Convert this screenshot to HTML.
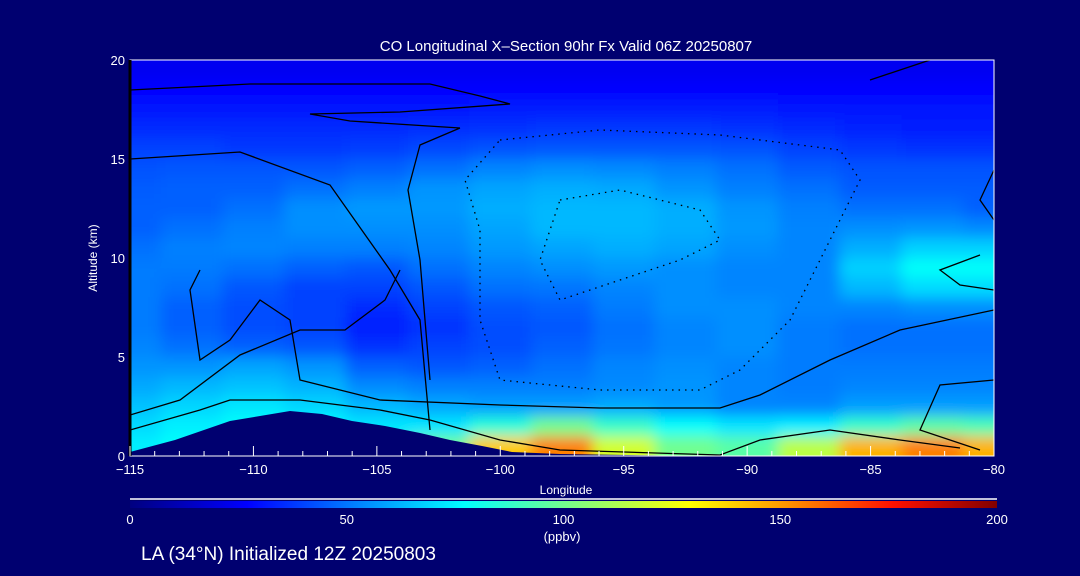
<!DOCTYPE html>
<html><head><meta charset="utf-8"><style>
body{margin:0;background:#000070;}
svg{display:block;font-family:"Liberation Sans",sans-serif;}
</style></head><body>
<svg id="chart" width="1080" height="576" viewBox="0 0 1080 576">
<defs>
<clipPath id="plotclip"><rect x="130" y="60" width="864" height="396"/></clipPath>
<filter id="blur" x="-5%" y="-5%" width="110%" height="110%"><feGaussianBlur stdDeviation="7"/></filter>
<linearGradient id="jet" x1="0" x2="1" y1="0" y2="0">
<stop offset="0" stop-color="#000080"/><stop offset="0.135" stop-color="#0000ff"/>
<stop offset="0.26" stop-color="#0080ff"/><stop offset="0.385" stop-color="#00ffff"/>
<stop offset="0.515" stop-color="#80ff80"/><stop offset="0.645" stop-color="#ffff00"/>
<stop offset="0.76" stop-color="#ff9000"/><stop offset="0.88" stop-color="#ff1000"/>
<stop offset="1" stop-color="#800000"/></linearGradient>
</defs>
<rect x="0" y="0" width="1080" height="576" fill="#000070"/>
<text x="566" y="51" fill="#fff" font-size="15" text-anchor="middle">CO Longitudinal X–Section 90hr  Fx Valid 06Z 20250807</text>
<g id="heat" clip-path="url(#plotclip)"><g id="cells" filter="url(#blur)"></g></g>
<polygon clip-path="url(#plotclip)" fill="#000070" points="130,456 130,452 175,440 230,421 290,411 322,414 352,421 385,426 420,433 450,440 482,446 512,452 560,454 700,456"/>
<g fill="none" stroke="#000" stroke-width="1.3" clip-path="url(#plotclip)">
<polyline points="130,90 250,84 430,84 480,96 510,104 400,112 310,114 350,121 460,128"/>
<polyline points="130,159 240,152 330,185 390,270 420,320 430,430"/>
<polyline points="460,128 420,145 408,190 420,260 430,380"/>
<polyline points="130,415 180,400 240,355 300,330 345,330 385,300 400,270"/>
<polyline points="200,270 190,290 200,360 230,340 260,300 290,320 300,380 380,400 500,405 600,408 720,408 760,395 830,360 900,330 994,310"/>
<polyline points="130,430 200,410 230,400 300,400 380,410 430,420 500,440 560,450 720,455 760,440 830,430 900,440 960,448"/>
<polyline points="994,380 940,385 920,430 980,450"/>
<polyline points="870,80 930,60"/><polyline points="994,170 980,200 994,220"/>
<polyline points="980,255 940,270 960,285 994,290"/>
</g>
<g fill="none" stroke="#000" stroke-width="1.3" stroke-dasharray="1.5 5" clip-path="url(#plotclip)">
<polyline points="500,140 600,130 720,135 840,150 860,180 830,240 790,320 740,370 700,390 600,390 500,380 480,320 480,230 465,180 500,140"/>
<polyline points="560,200 620,190 700,210 720,240 680,260 620,280 560,300 540,260 560,200"/>
</g>
<rect x="130" y="60" width="864" height="396" fill="none" stroke="#fff" stroke-width="1"/>
<line x1="130" y1="60" x2="130" y2="456" stroke="#000" stroke-width="3"/>
<g id="axes" fill="#fff" font-size="13"></g>
<text x="566" y="494" fill="#fff" font-size="12" text-anchor="middle">Longitude</text>
<text x="97" y="258" fill="#fff" font-size="12" text-anchor="middle" transform="rotate(-90 97 258)">Altitude (km)</text>
<line x1="130" y1="499" x2="997" y2="499" stroke="#fff" stroke-width="1.5"/>
<rect x="130" y="501" width="867" height="7" fill="url(#jet)"/>
<g id="cbticks" fill="#fff" font-size="13"></g>
<text x="562" y="541" fill="#fff" font-size="13" text-anchor="middle">(ppbv)</text>
<text x="141" y="560" fill="#fff" font-size="19">LA (34°N) Initialized 12Z 20250803</text>
</svg>
<script>
const lons=[-115,-112.5,-110,-107.5,-105,-102.5,-100,-97.5,-95,-92.5,-90,-87.5,-85,-82.5,-80];
const alts=[19.5,18.5,17.5,16.5,15.5,14.5,13.5,12.5,11.5,10.5,9.5,8.5,7.5,6.5,5.5,4.5,3.5,2.5,1.5,0.5];
const r195=[24,24,24,24,24,24,24,24,24,24,24,24,24,24,24];
const r185=[28,28,28,28,28,28,28,28,28,28,28,28,28,28,28];
const r175=[31,31,31,31,31,31,32,33,33,33,32,31,31,31,31];
const r165=[35,35,35,35,35,36,37,38,38,38,37,35,34,33,33];
const r155=[40,40,38,38,39,41,43,44,44,44,43,40,38,37,37];
const r145=[43,44,44,44,46,49,53,55,54,52,49,45,43,43,43];
const r135=[45,46,46,49,52,56,59,61,60,56,52,49,45,45,45];
const r125=[46,46,49,55,57,57,61,63,63,61,56,52,49,49,46];
const r115=[46,49,52,55,55,55,59,63,63,61,57,53,55,56,54];
const r105=[49,52,53,52,52,53,57,59,61,59,55,53,61,68,68];
const r95=[51,51,49,46,44,49,53,55,57,55,53,53,68,78,78];
const r85=[51,49,44,40,40,44,49,50,53,55,53,53,63,70,70];
const r75=[51,46,42,40,35,40,44,46,51,55,55,53,53,55,55];
const r65=[51,46,42,40,33,37,42,44,49,53,55,51,49,49,49];
const r55=[53,49,46,44,37,40,42,46,50,53,55,51,49,49,49];
const r45=[56,56,59,56,46,44,46,49,53,55,53,51,51,51,51];
const r35=[60,63,65,62,54,52,52,52,54,56,53,51,53,53,53];
const r25=[65,69,72,69,63,60,58,58,60,57,53,53,58,58,58];
const r15=[70,74,78,76,72,72,85,100,88,78,72,74,88,95,92];
const r05=[74,78,80,80,82,100,140,155,120,100,95,115,145,155,145];
const rows=[r195,r185,r175,r165,r155,r145,r135,r125,r115,r105,r95,r85,r75,r65,r55,r45,r35,r25,r15,r05];
const xTicks=[-115,-110,-105,-100,-95,-90,-85,-80];
const yTicks=[0,5,10,15,20];
const cbTicks=[0,50,100,150,200];

const xs=v=>130+(v+115)/35*864;
const ys=v=>456-v/20*396;
const NS='http://www.w3.org/2000/svg';
const stops=[[0,[0,0,128]],[27,[0,0,255]],[52,[0,128,255]],[77,[0,255,255]],[103,[128,255,128]],[129,[255,255,0]],[152,[255,144,0]],[176,[255,16,0]],[200,[128,0,0]]];
function color(v){
  v=Math.max(0,Math.min(200,v));
  for(let i=1;i<stops.length;i++){if(v<=stops[i][0]){const a=stops[i-1],b=stops[i];const t=(v-a[0])/(b[0]-a[0]);
    return 'rgb('+a[1].map((c,k)=>Math.round(c+(b[1][k]-c)*t)).join(',')+')';}}
  return 'rgb(128,0,0)';
}
const cg=document.getElementById('cells');
const bg=document.createElementNS(NS,'rect');
bg.setAttribute('x',100);bg.setAttribute('y',40);bg.setAttribute('width',930);bg.setAttribute('height',440);bg.setAttribute('fill',color(45));
cg.appendChild(bg);
const dx=864/35*2.5, dy=396/20;
rows.forEach((row,ri)=>{
  row.forEach((v,ci)=>{
    const r=document.createElementNS(NS,'rect');
    
    
    let x0=xs(lons[ci])-dx/2, w=dx+1;
    if(ci===0){x0-=30;w+=30;} if(ci===lons.length-1){w+=30;}
    let y0=ys(alts[ri])-dy/2, h=dy+1;
    if(ri===0){y0-=30;h+=30;} if(ri===rows.length-1){h+=30;}
    r.setAttribute('x',x0);r.setAttribute('y',y0);r.setAttribute('width',w);r.setAttribute('height',h);
    r.setAttribute('fill',color(v));
    cg.appendChild(r);
  });
});
const ax=document.getElementById('axes');
xTicks.forEach(t=>{
  const l=document.createElementNS(NS,'line');
  
  
  l.setAttribute('x1',xs(t));l.setAttribute('x2',xs(t));l.setAttribute('y1',456);l.setAttribute('y2',446);l.setAttribute('stroke','#fff');
  ax.appendChild(l);
  const tx=document.createElementNS(NS,'text');
  
  
  tx.setAttribute('x',xs(t));tx.setAttribute('y',474);tx.setAttribute('text-anchor','middle');
  tx.textContent=t<0?'\u2212'+(-t):t;ax.appendChild(tx);
});
for(let m=-115;m<=-80;m++){if(m%5===0)continue;
  const l=document.createElementNS(NS,'line');
  
  
  l.setAttribute('x1',xs(m));l.setAttribute('x2',xs(m));l.setAttribute('y1',456);l.setAttribute('y2',451);l.setAttribute('stroke','#fff');ax.appendChild(l);}
yTicks.forEach(t=>{
  const tx=document.createElementNS(NS,'text');
  
  
  tx.setAttribute('x',125);tx.setAttribute('y',ys(t)+5);tx.setAttribute('text-anchor','end');
  tx.textContent=t;ax.appendChild(tx);
});
const cb=document.getElementById('cbticks');
cbTicks.forEach(t=>{
  const tx=document.createElementNS(NS,'text');
  
  
  tx.setAttribute('x',130+t/200*867);tx.setAttribute('y',524);tx.setAttribute('text-anchor','middle');
  tx.textContent=t;cb.appendChild(tx);
});
</script>
</body></html>
